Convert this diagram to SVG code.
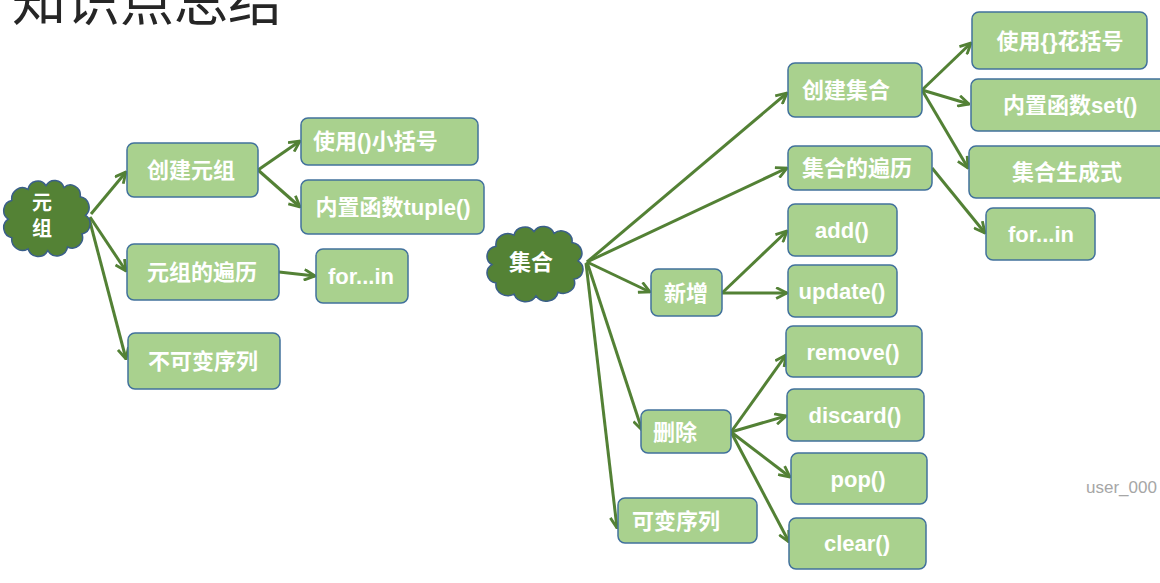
<svg xmlns="http://www.w3.org/2000/svg" xmlns:xlink="http://www.w3.org/1999/xlink" width="1160" height="583" viewBox="0 0 1160 583">
<style>
.box{fill:#a9d18e;stroke:#41719c;stroke-width:1.5}
.cloud{fill:#548235;stroke:#3a5f8a;stroke-width:1.5}
.t{fill:#ffffff;font-family:"Liberation Sans","Noto Sans CJK SC",sans-serif;font-size:22px;font-weight:bold}
.tm{text-anchor:middle}
.edge{stroke:#538135;stroke-width:3;fill:none;marker-end:url(#arr)}
.title{fill:#262626;font-family:"Noto Sans CJK SC",sans-serif;font-size:54px}
.wm{fill:#a6a6a6;font-family:"Liberation Sans",sans-serif;font-size:17px}
</style>
<defs>
<marker id="arr" viewBox="0 0 12 12" refX="11" refY="6" markerWidth="13" markerHeight="13" markerUnits="userSpaceOnUse" orient="auto">
<path d="M1,1 L11,6 L1,11" fill="none" stroke="#538135" stroke-width="2.6" stroke-linejoin="miter"/>
</marker>
<path id="cloudshape" vector-effect="non-scaling-stroke" d="M8,42 A11,11 0 0 1 12,22 A12,12 0 0 1 30,10 A11,11 0 0 1 50,6 A11,11 0 0 1 70,8 A11,11 0 0 1 88,18 A11.5,11.5 0 0 1 94,38 A11,11 0 0 1 90,58 A11.5,11.5 0 0 1 74,72 A12,12 0 0 1 52,76 A12,12 0 0 1 30,74 A12,12 0 0 1 12,62 A11,11 0 0 1 8,42 Z"/>
</defs>
<rect width="1160" height="583" fill="#ffffff"/>
<text class="title" x="12" y="21">知识点总结</text>

<g id="connectors">
<line class="edge" x1="91" y1="214" x2="126" y2="172"/>
<line class="edge" x1="90" y1="217" x2="126" y2="271"/>
<line class="edge" x1="89" y1="218" x2="126" y2="359"/>
<line class="edge" x1="258" y1="170" x2="300" y2="141"/>
<line class="edge" x1="258" y1="170" x2="300" y2="207"/>
<line class="edge" x1="279" y1="272" x2="315" y2="276"/>
<line class="edge" x1="587" y1="262" x2="787" y2="93"/>
<line class="edge" x1="587" y1="262" x2="787" y2="168"/>
<line class="edge" x1="587" y1="262" x2="650" y2="292"/>
<line class="edge" x1="587" y1="262" x2="642" y2="430"/>
<line class="edge" x1="586" y1="263" x2="617" y2="528"/>
<line class="edge" x1="722" y1="293" x2="787" y2="231"/>
<line class="edge" x1="722" y1="293" x2="787" y2="293"/>
<line class="edge" x1="922" y1="90" x2="971" y2="43"/>
<line class="edge" x1="922" y1="90" x2="969" y2="104"/>
<line class="edge" x1="922" y1="90" x2="968" y2="168"/>
<line class="edge" x1="932" y1="168" x2="985" y2="233"/>
<line class="edge" x1="731" y1="432" x2="786" y2="355"/>
<line class="edge" x1="731" y1="432" x2="786" y2="416"/>
<line class="edge" x1="731" y1="432" x2="790" y2="477"/>
<line class="edge" x1="731" y1="432" x2="789" y2="542"/>
</g>

<g id="n-yuanzu">
<use xlink:href="#cloudshape" class="cloud" transform="translate(1,180) scale(0.9,0.93)"/>
<text class="t tm" x="42" y="210" style="font-size:20px">元</text>
<text class="t tm" x="42" y="236" style="font-size:20px">组</text>
</g>
<g id="n-create-tuple"><rect class="box" x="127" y="143" width="131" height="54" rx="7"/><text class="t tm" x="191" y="178">创建元组</text></g>
<g id="n-paren"><rect class="box" x="301" y="118" width="177" height="47" rx="7"/><text class="t" x="313" y="149">使用()小括号</text></g>
<g id="n-tuplefn"><rect class="box" x="301" y="180" width="183" height="54" rx="7"/><text class="t tm" x="393" y="215">内置函数tuple()</text></g>
<g id="n-tuple-iter"><rect class="box" x="127" y="244" width="152" height="56" rx="7"/><text class="t tm" x="202" y="280">元组的遍历</text></g>
<g id="n-forin1"><rect class="box" x="316" y="249" width="92" height="54" rx="7"/><text class="t tm" x="361" y="284">for...in</text></g>
<g id="n-immutable"><rect class="box" x="128" y="333" width="152" height="56" rx="7"/><text class="t tm" x="203" y="369">不可变序列</text></g>

<g id="n-jihe">
<use xlink:href="#cloudshape" class="cloud" transform="translate(484,226) scale(1.0,0.92)"/>
<text class="t tm" x="531" y="270">集合</text>
</g>
<g id="n-create-set"><rect class="box" x="788" y="63" width="134" height="54" rx="7"/><text class="t" x="802" y="98">创建集合</text></g>
<g id="n-brace"><rect class="box" x="972" y="12" width="175" height="57" rx="7"/><text class="t tm" x="1060" y="49">使用{}花括号</text></g>
<g id="n-setfn"><rect class="box" x="971" y="79" width="196" height="52" rx="7"/><text class="t" x="1003" y="113">内置函数set()</text></g>
<g id="n-setcomp"><rect class="box" x="969" y="146" width="198" height="52" rx="7"/><text class="t" x="1012" y="180">集合生成式</text></g>
<g id="n-set-iter"><rect class="box" x="788" y="146" width="144" height="44" rx="7"/><text class="t" x="802" y="176">集合的遍历</text></g>
<g id="n-forin2"><rect class="box" x="986" y="208" width="109" height="52" rx="7"/><text class="t tm" x="1041" y="242">for...in</text></g>
<g id="n-add"><rect class="box" x="788" y="204" width="109" height="52" rx="7"/><text class="t tm" x="842" y="238">add()</text></g>
<g id="n-update"><rect class="box" x="788" y="265" width="109" height="52" rx="7"/><text class="t tm" x="842" y="299">update()</text></g>
<g id="n-new"><rect class="box" x="651" y="269" width="71" height="47" rx="7"/><text class="t tm" x="686" y="301">新增</text></g>
<g id="n-delete"><rect class="box" x="641" y="410" width="90" height="43" rx="7"/><text class="t" x="653" y="440">删除</text></g>
<g id="n-mutable"><rect class="box" x="618" y="498" width="139" height="45" rx="7"/><text class="t" x="632" y="529">可变序列</text></g>
<g id="n-remove"><rect class="box" x="786" y="326" width="136" height="51" rx="7"/><text class="t tm" x="853" y="360">remove()</text></g>
<g id="n-discard"><rect class="box" x="787" y="389" width="137" height="52" rx="7"/><text class="t tm" x="855" y="423">discard()</text></g>
<g id="n-pop"><rect class="box" x="791" y="453" width="136" height="51" rx="7"/><text class="t tm" x="858" y="487">pop()</text></g>
<g id="n-clear"><rect class="box" x="789" y="518" width="137" height="51" rx="7"/><text class="t tm" x="857" y="551">clear()</text></g>

<text class="wm" x="1086" y="493">user_000</text>
</svg>
